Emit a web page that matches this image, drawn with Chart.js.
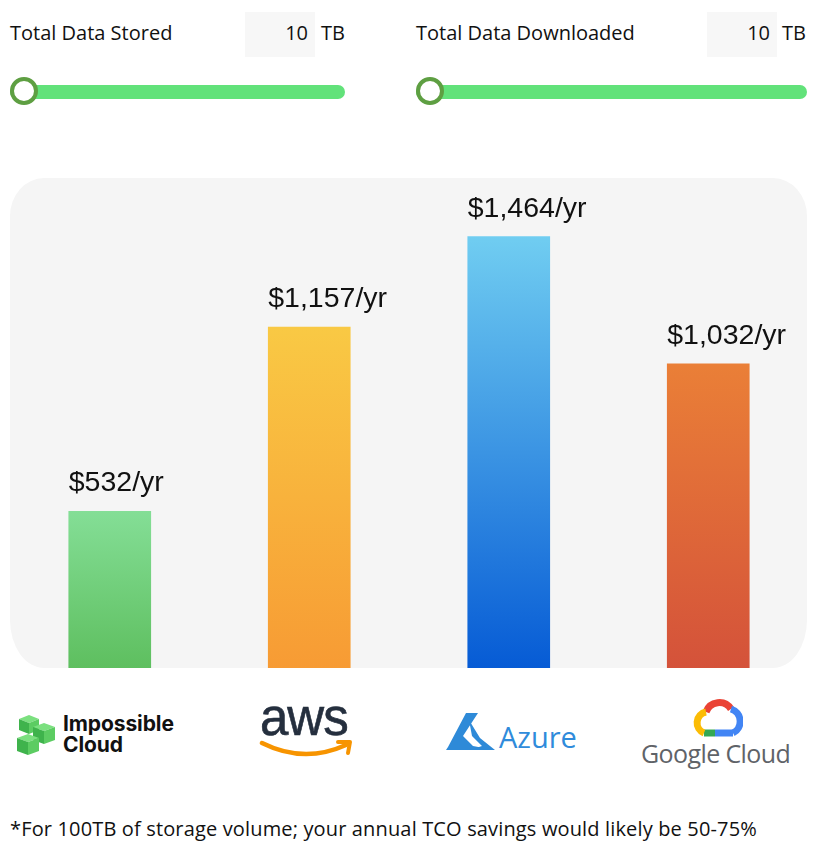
<!DOCTYPE html>
<html>
<head>
<meta charset="utf-8">
<script src="https://cdn.jsdelivr.net/npm/chart.js@4/dist/chart.umd.min.js"></script>
<style>
  html, body { margin:0; padding:0; background:#ffffff; }
  body { width:827px; height:867px; position:relative; overflow:hidden; font-family:"Open Sans", "DejaVu Sans", sans-serif; color:#111; }
  .abs { position:absolute; }
  .lbl { font-size:20px; line-height:22px; color:#111; white-space:nowrap; }
  .box { background:#f7f7f7; height:45px; width:70px; font-size:20px; line-height:42px; text-align:right; box-sizing:border-box; padding-right:7px; }
  .track { height:14px; background:#62e27a; border-radius:7px; }
  .thumb { width:28px; height:28px; border-radius:50%; background:#fff; border:4px solid #5e9f42; box-sizing:border-box; }
  #panel { left:10px; top:178px; width:797px; height:490px; background:#f5f5f5; border-radius:34px 34px 34px 34px / 38px 38px 48px 48px; }
  #wrap { left:10px; top:178px; width:798px; height:490px; }
  .foot { left:10px; top:816px; font-size:20px; line-height:26px; white-space:nowrap; color:#111; letter-spacing:0.15px; }
</style>
</head>
<body>
<!-- sliders -->
<div class="abs lbl" style="left:10px; top:22px;">Total Data Stored</div>
<div class="abs box" style="left:245px; top:12px;">10</div>
<div class="abs lbl" style="left:321px; top:22px;">TB</div>
<div class="abs track" style="left:10px; top:85px; width:335px;"></div>
<div class="abs thumb" style="left:10px; top:77px;"></div>

<div class="abs lbl" style="left:416px; top:22px;">Total Data Downloaded</div>
<div class="abs box" style="left:707px; top:12px;">10</div>
<div class="abs lbl" style="left:782px; top:22px;">TB</div>
<div class="abs track" style="left:416px; top:85px; width:391px;"></div>
<div class="abs thumb" style="left:416px; top:77px;"></div>

<div id="panel" class="abs"></div>
<div id="wrap" class="abs"><canvas id="c" width="798" height="490"></canvas></div>

<!-- logos -->
<svg class="abs" style="left:16px; top:713px;" width="42" height="44" viewBox="0 0 42 44">
  <g>
    <polygon points="3,6 13,2 23,6 13,10" fill="#7be07f"/>
    <polygon points="3,6 13,10 13,21 3,17" fill="#3fb34c"/>
    <polygon points="13,10 23,6 23,17 13,21" fill="#5ccc62"/>
    <polygon points="17,14 28,10 39,14 28,18" fill="#7be07f"/>
    <polygon points="17,14 28,18 28,31 17,27" fill="#3fb34c"/>
    <polygon points="28,18 39,14 39,27 28,31" fill="#5ccc62"/>
    <polygon points="1,25 12,21 23,25 12,29" fill="#7be07f"/>
    <polygon points="1,25 12,29 12,42 1,38" fill="#3fb34c"/>
    <polygon points="12,29 23,25 23,38 12,42" fill="#5ccc62"/>
  </g>
</svg>
<div class="abs" style="left:63px; top:713px; font-family:Inter, 'Liberation Sans', sans-serif; font-weight:700; font-size:21px; line-height:21px; color:#111; letter-spacing:-0.1px;">Impossible<br>Cloud</div>

<div class="abs" style="left:260px; top:688px; font-family:'Liberation Sans', Arial, sans-serif; font-size:51px; line-height:60px; color:#252f3e; letter-spacing:-1px; -webkit-text-stroke:0.6px #252f3e;">aws</div>
<svg class="abs" style="left:258px; top:738px;" width="96" height="24" viewBox="0 0 96 24">
  <path d="M4,5 Q46,26 88,7" fill="none" stroke="#f79400" stroke-width="4.5" stroke-linecap="round"/>
  <path d="M80,4 L92,4 L90,15" fill="none" stroke="#f79400" stroke-width="4" stroke-linecap="round" stroke-linejoin="round"/>
</svg>

<svg class="abs" style="left:446px; top:712px;" width="50" height="40" viewBox="0 0 50 40">
  <polygon points="20,1 32,1 17,24 27,34 48,38 0,38 2,35" fill="#2e8ad8"/>
  <polygon points="23,8 34,26 49,38 24,38 36,34 26,24" fill="#2e8ad8"/>
</svg>
<div class="abs" style="left:499px; top:719px; font-family:'Open Sans', sans-serif; font-size:29px; line-height:36px; color:#2f8bdb;">Azure</div>

<svg class="abs" style="left:691px; top:699px;" width="52" height="40" viewBox="0 0 52 40">
  <path d="M15,13 A14,14 0 0 1 40,10" fill="none" stroke="#ea4335" stroke-width="7"/>
  <path d="M40,10 A13,13 0 0 1 42,34" fill="none" stroke="#4285f4" stroke-width="7"/>
  <path d="M42,34 L24,34" fill="none" stroke="#4285f4" stroke-width="7"/>
  <path d="M24,34 L13,34" fill="none" stroke="#34a853" stroke-width="7"/>
  <path d="M13,34 A11,11 0 0 1 15,13" fill="none" stroke="#fbbc05" stroke-width="7"/>
</svg>
<div class="abs" style="left:641px; top:737px; font-family:'Open Sans', sans-serif; font-size:25px; line-height:32px; color:#5f6368; letter-spacing:-0.6px;">Google Cloud</div>

<div class="abs foot">*For 100TB of storage volume; your annual TCO savings would likely be 50-75%</div>

<script>
const providers = ["Impossible Cloud", "AWS", "Azure", "Google Cloud"];
const annualCost = [532, 1157, 1464, 1032];
const costLabels = ["$532/yr", "$1,157/yr", "$1,464/yr", "$1,032/yr"];
const gradientTop = ["#84de96", "#f9c944", "#70cdf1", "#ea7f37"];
const gradientBottom = ["#5ebf5f", "#f79b34", "#065bd5", "#d4523a"];

function barFill(ctx) {
  const chart = ctx.chart;
  const area = chart.chartArea;
  const i = ctx.dataIndex;
  if (!area || i === undefined) return gradientTop[i || 0];
  const yTop = chart.scales.y.getPixelForValue(annualCost[i]);
  const g = chart.ctx.createLinearGradient(0, yTop, 0, area.bottom);
  g.addColorStop(0, gradientTop[i]);
  g.addColorStop(1, gradientBottom[i]);
  return g;
}

const labelPlugin = {
  id: 'costLabels',
  afterDatasetsDraw(chart) {
    const c = chart.ctx;
    const meta = chart.getDatasetMeta(0);
    c.save();
    c.font = '28.5px "Liberation Sans", Arial, sans-serif';
    c.fillStyle = '#111';
    c.textAlign = 'left';
    c.textBaseline = 'alphabetic';
    meta.data.forEach((bar, i) => {
      const left = bar.x - bar.width / 2;
      c.fillText(costLabels[i], left, bar.y - 20);
    });
    c.restore();
  }
};

new Chart(document.getElementById('c'), {
  type: 'bar',
  data: {
    labels: providers,
    datasets: [{
      data: annualCost,
      backgroundColor: barFill,
      borderWidth: 0,
      barThickness: 82
    }]
  },
  options: {
    responsive: false,
    animation: false,
    layout: { padding: 0 },
    plugins: { legend: { display: false }, tooltip: { enabled: false } },
    scales: {
      x: { display: false, grid: { display: false } },
      y: { display: false, min: 0, max: 1663, grid: { display: false } }
    }
  },
  plugins: [labelPlugin]
});
</script>
</body>
</html>
